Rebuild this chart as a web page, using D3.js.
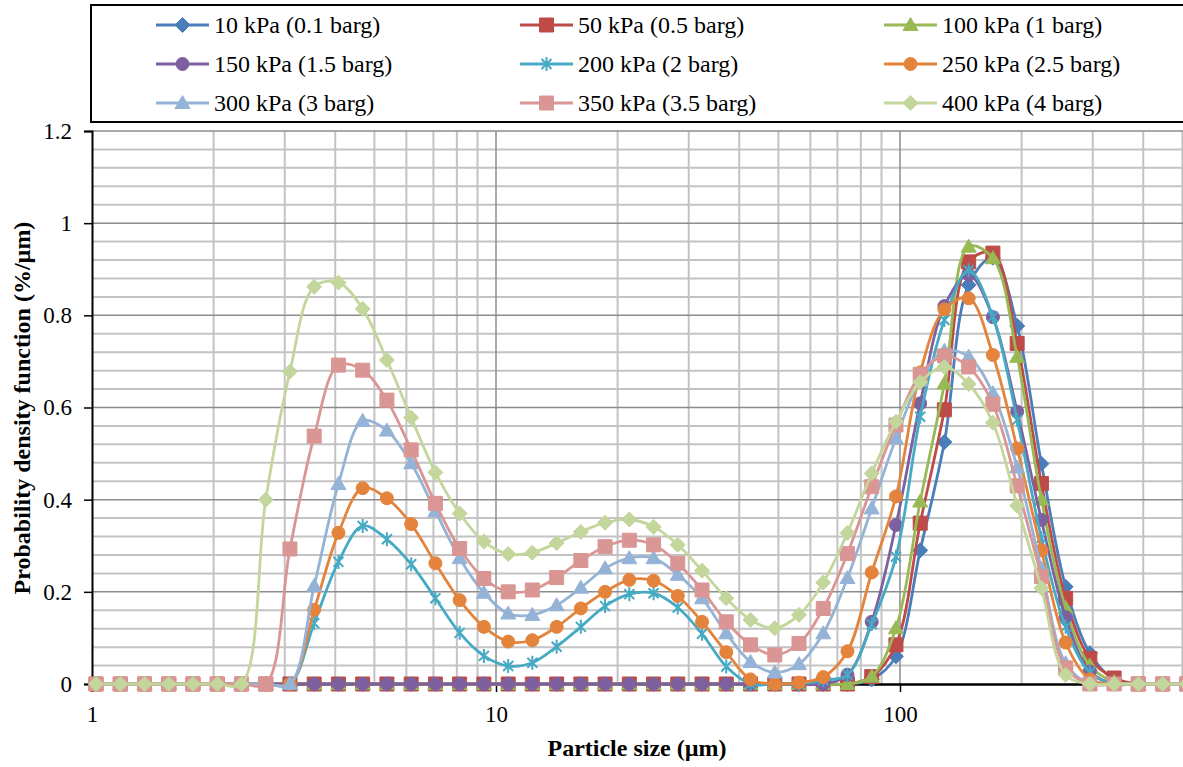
<!DOCTYPE html>
<html>
<head>
<meta charset="utf-8">
<script src="https://cdn.jsdelivr.net/npm/d3@7"></script>
<style>
    body { margin: 0; background: #fff; }
</style>
</head>
<body>
<svg width="1183" height="767"></svg>
<script>
const width = 1183;
const height = 767;
const serif = "'Liberation Serif', 'Times New Roman', serif";

// particle size classes (µm)
const sizes = [1.023, 1.175, 1.349, 1.549, 1.778, 2.042, 2.344, 2.692, 3.090, 3.548,
    4.074, 4.677, 5.370, 6.166, 7.079, 8.128, 9.333, 10.72, 12.30, 14.13,
    16.22, 18.62, 21.38, 24.55, 28.18, 32.36, 37.15, 42.66, 48.98, 56.23,
    64.57, 74.13, 85.11, 97.72, 112.2, 128.8, 147.9, 169.8, 195.0, 223.9,
    257.0, 295.1, 338.8, 389.0, 446.7, 512.9];

// probability density (%/µm), one array per pressure
const p10 = [0, 0, 0, 0, 0, 0, 0, 0, 0, 0,
    0, 0, 0, 0, 0, 0, 0, 0, 0, 0,
    0, 0, 0, 0, 0, 0, 0, 0, 0, 0,
    0, 0, 0.01, 0.06, 0.29, 0.525, 0.866, 0.925, 0.777, 0.478,
    0.211, 0.067, 0.01, 0, 0, 0];
const p50 = [0, 0, 0, 0, 0, 0, 0, 0, 0, 0,
    0, 0, 0, 0, 0, 0, 0, 0, 0, 0,
    0, 0, 0, 0, 0, 0, 0, 0, 0, 0,
    0, 0, 0.016, 0.085, 0.349, 0.595, 0.916, 0.935, 0.739, 0.435,
    0.186, 0.055, 0.013, 0, 0, 0];
const p100 = [0, 0, 0, 0, 0, 0, 0, 0, 0, 0,
    0, 0, 0, 0, 0, 0, 0, 0, 0, 0,
    0, 0, 0, 0, 0, 0, 0, 0, 0, 0,
    0, 0, 0.016, 0.121, 0.396, 0.652, 0.949, 0.924, 0.71, 0.40,
    0.165, 0.04, 0.005, 0, 0, 0];
const p150 = [0, 0, 0, 0, 0, 0, 0, 0, 0, 0,
    0, 0, 0, 0, 0, 0, 0, 0, 0, 0,
    0, 0, 0, 0, 0, 0, 0, 0, 0, 0,
    0, 0.02, 0.135, 0.345, 0.609, 0.82, 0.888, 0.796, 0.591, 0.356,
    0.145, 0.027, 0, 0, 0, 0];
const p200 = [0, 0, 0, 0, 0, 0, 0, 0, 0, 0.132,
    0.265, 0.343, 0.314, 0.26, 0.186, 0.111, 0.061, 0.039, 0.046, 0.081,
    0.124, 0.169, 0.195, 0.197, 0.166, 0.109, 0.038, 0, 0, 0,
    0.008, 0.02, 0.13, 0.276, 0.58, 0.79, 0.898, 0.797, 0.573, 0.317,
    0.124, 0.025, 0, 0, 0, 0];
const p250 = [0, 0, 0, 0, 0, 0, 0, 0, 0, 0.161,
    0.328, 0.425, 0.403, 0.347, 0.262, 0.182, 0.124, 0.092, 0.095, 0.124,
    0.164, 0.2, 0.226, 0.224, 0.191, 0.135, 0.069, 0.01, 0, 0.003,
    0.015, 0.071, 0.242, 0.407, 0.676, 0.813, 0.837, 0.714, 0.511, 0.29,
    0.09, 0.01, 0, 0, 0, 0];
const p300 = [0, 0, 0, 0, 0, 0, 0, 0, 0, 0.213,
    0.434, 0.571, 0.55, 0.479, 0.375, 0.273, 0.198, 0.153, 0.15, 0.171,
    0.209, 0.251, 0.273, 0.273, 0.237, 0.186, 0.11, 0.048, 0.025, 0.043,
    0.11, 0.23, 0.381, 0.533, 0.66, 0.723, 0.71, 0.631, 0.47, 0.25,
    0.045, 0, 0, 0, 0, 0];
const p350 = [0, 0, 0, 0, 0, 0, 0, 0, 0.293, 0.538,
    0.692, 0.681, 0.616, 0.508, 0.392, 0.294, 0.229, 0.2, 0.204, 0.231,
    0.268, 0.298, 0.312, 0.302, 0.262, 0.204, 0.135, 0.085, 0.063, 0.088,
    0.164, 0.283, 0.428, 0.562, 0.672, 0.712, 0.688, 0.607, 0.43, 0.233,
    0.035, 0, 0, 0, 0, 0];
const p400 = [0, 0, 0, 0, 0, 0, 0, 0.40, 0.678, 0.862,
    0.871, 0.814, 0.703, 0.578, 0.459, 0.37, 0.309, 0.282, 0.285, 0.306,
    0.33, 0.35, 0.357, 0.341, 0.302, 0.246, 0.186, 0.139, 0.121, 0.15,
    0.22, 0.328, 0.457, 0.569, 0.655, 0.688, 0.651, 0.567, 0.387, 0.208,
    0.02, 0, 0, 0, 0, 0];

const labels = ["10 kPa (0.1 barg)", "50 kPa (0.5 barg)", "100 kPa (1 barg)",
    "150 kPa (1.5 barg)", "200 kPa (2 barg)", "250 kPa (2.5 barg)",
    "300 kPa (3 barg)", "350 kPa (3.5 barg)", "400 kPa (4 barg)"];
const yTicks = [0, 0.2, 0.4, 0.6, 0.8, 1, 1.2];
const xTicks = [1, 10, 100];

const values = [p10, p50, p100, p150, p200, p250, p300, p350, p400];
const colors = ["#4A7EBB", "#BE4B48", "#98B954", "#7D60A0", "#46AAC5",
    "#E4843C", "#95B3D7", "#D99694", "#C3D69B"];
const symbols = ["diamond", "square", "triangle", "circle", "star",
    "circle", "triangle", "square", "diamond"];

const series = labels.map((name, i) => ({
    name: name,
    color: colors[i],
    symbol: symbols[i],
    points: sizes.map((s, j) => ({ size: s, v: values[i][j] }))
}));

const svg = d3.select("svg");

// scales (log x, plot continues past the right edge of the picture)
const xScale = d3.scaleLog()
    .domain([1, 1000])
    .range([92, 92 + 3 * 404]);

const yScale = d3.scaleLinear()
    .domain([0, 1.2])
    .range([684, 131]);

const plotLeft = 92, plotRight = 92 + 3 * 404;

// minor gridlines
const yMinor = d3.range(1, 30).map(i => i * 0.04).filter((v, i) => (i + 1) % 5 !== 0);
svg.append("g")
    .selectAll("line")
    .data(yMinor)
    .join("line")
    .attr("x1", plotLeft).attr("x2", plotRight)
    .attr("y1", d => yScale(d)).attr("y2", d => yScale(d))
    .attr("stroke", "#c3c3c3")
    .attr("stroke-width", 2);

const xMinor = [];
[1, 10, 100].forEach(dec => {
    for (let m = 2; m <= 9; m++) xMinor.push(dec * m);
});
svg.append("g")
    .selectAll("line")
    .data(xMinor)
    .join("line")
    .attr("x1", d => xScale(d)).attr("x2", d => xScale(d))
    .attr("y1", yScale(1.2)).attr("y2", yScale(0))
    .attr("stroke", "#c3c3c3")
    .attr("stroke-width", 2);

// major gridlines
svg.append("g")
    .selectAll("line")
    .data(yTicks.filter(d => d > 0))
    .join("line")
    .attr("x1", plotLeft).attr("x2", plotRight)
    .attr("y1", d => yScale(d)).attr("y2", d => yScale(d))
    .attr("stroke", "#8c8c8c")
    .attr("stroke-width", 1.5);

svg.append("g")
    .selectAll("line")
    .data([10, 100])
    .join("line")
    .attr("x1", d => xScale(d)).attr("x2", d => xScale(d))
    .attr("y1", yScale(1.2)).attr("y2", yScale(0))
    .attr("stroke", "#8c8c8c")
    .attr("stroke-width", 1.5);

// y axis
const yAxis = d3.axisLeft(yScale)
    .tickValues(yTicks)
    .tickSize(8)
    .tickPadding(12)
    .tickFormat(d => d3.format("")(d));

const gy = svg.append("g")
    .attr("transform", `translate(${plotLeft},0)`)
    .call(yAxis);
gy.select(".domain").attr("stroke", "#000").attr("stroke-width", 2);
gy.selectAll(".tick line").attr("stroke", "#000").attr("stroke-width", 1.5);
gy.selectAll(".tick text")
    .style("font-family", serif)
    .style("font-size", "23px")
    .attr("fill", "#000");

// x axis
const xAxis = d3.axisBottom(xScale)
    .tickValues(xTicks)
    .tickSize(8)
    .tickPadding(14)
    .tickFormat(d3.format("d"));

const gx = svg.append("g")
    .attr("transform", `translate(0,${yScale(0)})`)
    .call(xAxis);
gx.select(".domain").attr("stroke", "#000").attr("stroke-width", 2.5);
gx.selectAll(".tick line").attr("stroke", "#000").attr("stroke-width", 1.5);
gx.selectAll(".tick text")
    .style("font-family", serif)
    .style("font-size", "23px")
    .attr("fill", "#000");

// marker shapes
function markerPath(sym) {
    if (sym === "diamond") return "M0,-7.5L7.5,0L0,7.5L-7.5,0Z";
    if (sym === "square") return "M-7,-7H7V7H-7Z";
    if (sym === "triangle") return "M0,-7.5L7.5,5.5L-7.5,5.5Z";
    if (sym === "circle") return "M6.5,0A6.5,6.5,0,1,1,-6.5,0A6.5,6.5,0,1,1,6.5,0Z";
    return "M-5,-5L5,5M-5,5L5,-5M0,-7L0,7";
}

function drawMarker(g, s, cx, cy) {
    const p = g.append("path")
        .attr("transform", `translate(${cx},${cy})`)
        .attr("d", markerPath(s.symbol))
        .attr("stroke", s.color);
    if (s.symbol === "star") {
        p.attr("fill", "none").attr("stroke-width", 2);
    } else {
        p.attr("fill", s.color).attr("stroke-width", 1);
    }
}

// smoothed lines
const line = d3.line()
    .x(d => xScale(d.size))
    .y(d => yScale(d.v))
    .curve(d3.curveCatmullRom.alpha(0.5));

const plot = svg.append("g");

series.forEach(s => {
    const g = plot.append("g");
    g.append("path")
        .datum(s.points)
        .attr("fill", "none")
        .attr("stroke", s.color)
        .attr("stroke-width", 2.8)
        .attr("stroke-linejoin", "round")
        .attr("d", line);
    s.points.forEach(d => drawMarker(g, s, xScale(d.size), yScale(d.v)));
});

// legend
svg.append("rect")
    .attr("x", 91)
    .attr("y", 5)
    .attr("width", 1150)
    .attr("height", 117)
    .attr("fill", "none")
    .attr("stroke", "#000")
    .attr("stroke-width", 2);

const colX = [156, 520, 884];
const rowY = [25, 64, 103];

series.forEach((s, i) => {
    const x0 = colX[i % 3];
    const y0 = rowY[Math.floor(i / 3)];
    const g = svg.append("g");
    g.append("line")
        .attr("x1", x0).attr("x2", x0 + 53)
        .attr("y1", y0).attr("y2", y0)
        .attr("stroke", s.color)
        .attr("stroke-width", 2.8);
    drawMarker(g, s, x0 + 26.5, y0);
    g.append("text")
        .attr("x", x0 + 58)
        .attr("y", y0)
        .attr("dy", "0.35em")
        .style("font-family", serif)
        .style("font-size", "24px")
        .attr("fill", "#000")
        .text(s.name);
});

// axis titles
svg.append("text")
    .attr("x", 637)
    .attr("y", 748)
    .attr("dy", "0.35em")
    .attr("text-anchor", "middle")
    .style("font-family", serif)
    .style("font-size", "24px")
    .style("font-weight", "bold")
    .attr("fill", "#000")
    .text("Particle size (µm)");

svg.append("text")
    .attr("transform", "rotate(-90)")
    .attr("x", -408)
    .attr("y", 22)
    .attr("dy", "0.35em")
    .attr("text-anchor", "middle")
    .style("font-family", serif)
    .style("font-size", "24px")
    .style("font-weight", "bold")
    .attr("fill", "#000")
    .text("Probability density function (%/µm)");
</script>
</body>
</html>
